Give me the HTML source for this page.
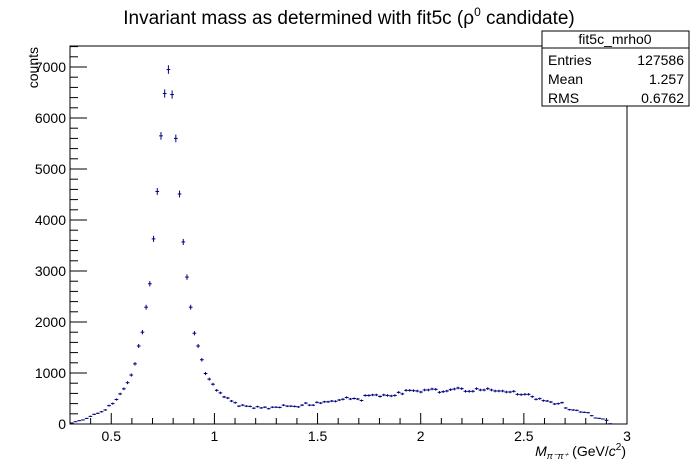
<!DOCTYPE html>
<html><head><meta charset="utf-8"><style>
body{margin:0;background:#fff;}
svg{display:block;font-family:"Liberation Sans",Arial,sans-serif;}
</style></head><body>
<svg id="chart" width="696" height="472" viewBox="0 0 696 472">
<rect x="0" y="0" width="696" height="472" fill="#fff"/>
<text x="349" y="24" text-anchor="middle" font-size="19">Invariant mass as determined with fit5c (ρ<tspan dy="-8" font-size="12">0</tspan><tspan dy="8"> candidate)</tspan></text>
<g id="axes"></g>
<g id="marks"></g>
<text transform="translate(38,47) rotate(-90)" text-anchor="end" font-size="14">counts</text>
<text x="626" y="456" text-anchor="end" font-size="14"><tspan font-style="italic">M</tspan><tspan font-size="9" font-style="italic" dy="3">π⁻π⁺</tspan><tspan dy="-3"> (GeV/</tspan><tspan font-style="italic">c</tspan><tspan dy="-6" font-size="10">2</tspan><tspan dy="6">)</tspan></text>
<g>
<rect x="542" y="31" width="147" height="75" fill="#fff" stroke="#000" stroke-width="1"/>
<line x1="542" y1="48" x2="689" y2="48" stroke="#000"/>
<text x="615" y="44" text-anchor="middle" font-size="14">fit5c_mrho0</text>
<text x="548" y="65" font-size="14">Entries</text><text x="684" y="65" text-anchor="end" font-size="14">127586</text>
<text x="548" y="84" font-size="14">Mean</text><text x="684" y="84" text-anchor="end" font-size="14">1.257</text>
<text x="548" y="103" font-size="14">RMS</text><text x="684" y="103" text-anchor="end" font-size="14">0.6762</text>
</g>
</svg>
<script>
const xMin = 0.3, xMax = 3.0, binWidth = 0.018;
const yMin = 0, yMax = 7400;
const xTickValues = [0.5, 1, 1.5, 2, 2.5, 3];
const xTickLabels = ["0.5", "1", "1.5", "2", "2.5", "3"];
const yTickValues = [0, 1000, 2000, 3000, 4000, 5000, 6000, 7000];
const yTickLabels = ["0", "1000", "2000", "3000", "4000", "5000", "6000", "7000"];
const counts = [20,45,65,80,110,150,190,210,240,275,360,400,480,590,690,810,960,1180,1530,1800,2290,2750,3630,4560,5650,6480,6950,6460,5600,4510,3570,2880,2290,1780,1530,1260,990,880,780,660,610,530,510,450,
418,350,370,350,345,310,340,315,330,300,330,330,325,370,350,350,345,335,370,410,370,370,425,410,435,435,450,445,470,485,520,490,500,490,460,560,560,570,570,540,570,560,550,560,620,590,660,660,
654,647,627,667,667,686,680,621,634,647,673,686,706,693,641,641,641,693,667,667,693,667,647,647,647,627,627,641,582,575,582,582,536,484,497,458,451,431,392,399,418,314,281,275,268,235,229,222,163,118,111,98,72,6];

const L = 70, R = 627, T = 46, B = 424;
const y0px = 424, y7000px = 67;
function sx(v){ return L + (v - xMin) / (xMax - xMin) * (R - L); }
function sy(v){ return y0px - v * (y0px - y7000px) / 7000; }
const NS = "http://www.w3.org/2000/svg";
function mk(tag, attrs, parent){ const e = document.createElementNS(NS, tag); for (const k in attrs) e.setAttribute(k, attrs[k]); parent.appendChild(e); return e; }
const axes = document.getElementById("axes"), marks = document.getElementById("marks");

const frame = mk("rect", {x:L, y:T, width:R-L, height:B-T, fill:"none", stroke:"#000", "stroke-width":1}, axes);



for (let v = 0.3; v <= 3.0001; v += 0.1) {
  const major = Math.abs(v*2 - Math.round(v*2)) < 1e-6;
  const x = sx(v);
  const t = mk("line", {x1:x, x2:x, y1:B, y2:B - (major ? 11 : 6), stroke:"#000"}, axes);
  
  
}
xTickValues.forEach((v, i) => {
  const t = mk("text", {x:sx(v), y:441, "text-anchor":"middle", "font-size":14}, axes);
  t.textContent = xTickLabels[i];
  
  
});
for (let v = 0; v <= yMax; v += 200) {
  const major = v % 1000 === 0;
  const y = sy(v);
  if (y < T) continue;
  const t = mk("line", {x1:L, x2:L + (major ? 17 : 8), y1:y, y2:y, stroke:"#000"}, axes);
  
  
}
yTickValues.forEach((v, i) => {
  const t = mk("text", {x:L - 4, y:sy(v) + 5, "text-anchor":"end", "font-size":14}, axes);
  t.textContent = yTickLabels[i];
  
  
});

counts.forEach((c, i) => {
  if (c <= 0) return;
  const lo = xMin + i * binWidth, hi = lo + binWidth, mid = lo + binWidth / 2;
  const err = Math.sqrt(c);
  const g = mk("g", {stroke:"#00007f", "stroke-width":1}, marks);
  
  
  mk("line", {x1:sx(lo), x2:sx(hi), y1:sy(c), y2:sy(c)}, g);
  mk("line", {x1:sx(mid), x2:sx(mid), y1:sy(c - err), y2:sy(c + err)}, g);
});
</script>
</body></html>
